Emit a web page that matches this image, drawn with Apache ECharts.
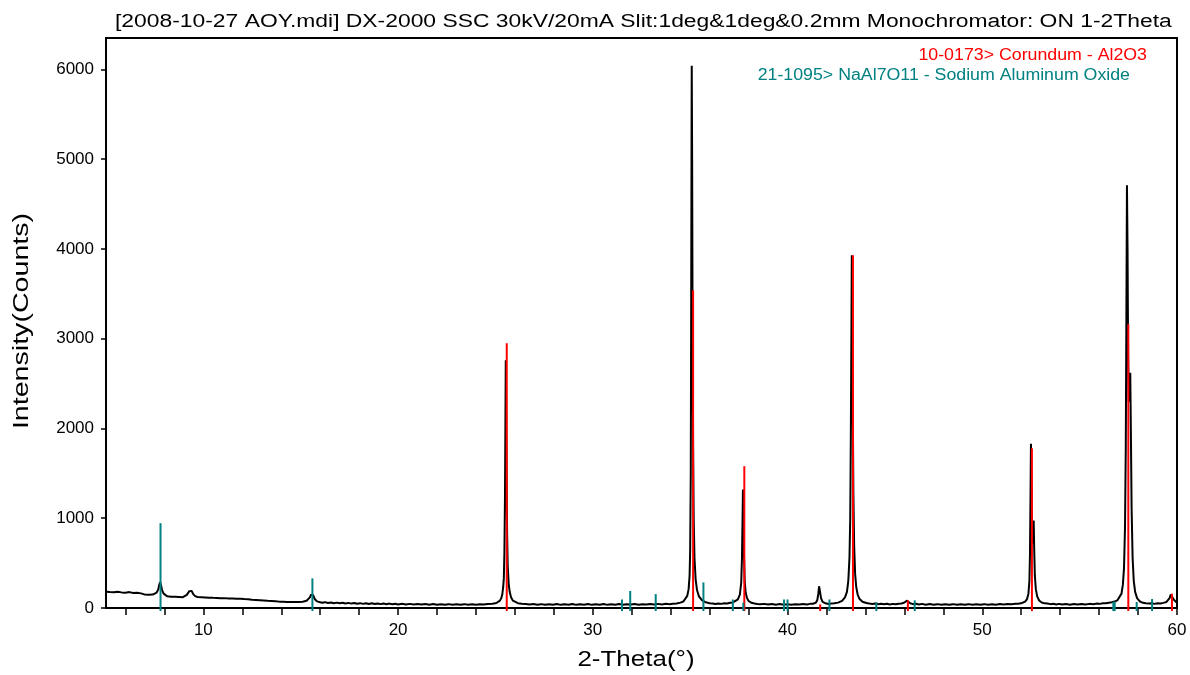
<!DOCTYPE html>
<html>
<head>
<meta charset="utf-8">
<title>XRD pattern</title>
<script src="https://cdn.jsdelivr.net/npm/echarts@6/dist/echarts.min.js"></script>
<style>
  html, body { margin: 0; padding: 0; background: #fff; }
  #chart { width: 1190px; height: 675px; }
</style>
</head>
<body>
<div id="chart"></div>
<script>
const patternLow = [
  [5.0, 182], [5.1, 168], [5.2, 178], [5.3, 160], [5.4, 176], [5.5, 170], [5.6, 181], [5.7, 162],
  [5.8, 174], [5.9, 158], [6.0, 171], [6.1, 165], [6.2, 177], [6.3, 155], [6.4, 168], [6.5, 160],
  [6.6, 170], [6.7, 150], [6.8, 163], [6.9, 156], [7.0, 149], [7.1, 160], [7.2, 147], [7.3, 156],
  [7.4, 150], [7.5, 158], [7.6, 172], [7.68, 205], [7.74, 262], [7.78, 290], [7.82, 258], [7.88, 200],
  [7.96, 160], [8.05, 142], [8.15, 130], [8.25, 141], [8.35, 126], [8.45, 138], [8.55, 124], [8.65, 136],
  [8.75, 122], [8.85, 133], [8.95, 120], [9.05, 134], [9.15, 146], [9.22, 168], [9.28, 188], [9.34, 205],
  [9.4, 190], [9.48, 155], [9.58, 132], [9.7, 122], [9.8, 110], [9.9, 121], [10.0, 106], [10.1, 118],
  [10.2, 104], [10.3, 115], [10.4, 100], [10.5, 113], [10.6, 102], [10.7, 112], [10.8, 96], [10.9, 108],
  [11.0, 99], [11.1, 110], [11.2, 94], [11.3, 106], [11.4, 97], [11.5, 107], [11.6, 91], [11.7, 103],
  [11.8, 94], [11.9, 104], [12.0, 88], [12.1, 99], [12.2, 86], [12.3, 97], [12.4, 84], [12.5, 93],
  [12.6, 80], [12.7, 90], [12.8, 78], [12.9, 87], [13.0, 74], [13.1, 84], [13.2, 72], [13.3, 80],
  [13.4, 69], [13.5, 77], [13.6, 66], [13.7, 74], [13.8, 64], [13.9, 71], [14.0, 62], [14.1, 70],
  [14.2, 60], [14.3, 68], [14.4, 59], [14.5, 66], [14.6, 58], [14.7, 66], [14.8, 60], [14.9, 67],
  [15.0, 62], [15.1, 70], [15.2, 72], [15.3, 80], [15.4, 94], [15.47, 118], [15.53, 148], [15.58, 160],
  [15.64, 142], [15.72, 100], [15.82, 76], [15.95, 66], [16.1, 58], [16.25, 65], [16.4, 55], [16.55, 62],
  [16.7, 53], [16.85, 60], [17.0, 52], [17.15, 59], [17.3, 50], [17.45, 57], [17.6, 49], [17.75, 56],
  [17.9, 47], [18.05, 54], [18.2, 46], [18.35, 53], [18.5, 45], [18.65, 52], [18.8, 44], [18.95, 51],
  [19.1, 43], [19.25, 50], [19.4, 42], [19.55, 49], [19.7, 41], [19.85, 48], [20.0, 40], [20.2, 47],
  [20.4, 39], [20.6, 46], [20.8, 38], [21.0, 45], [21.2, 38], [21.4, 44], [21.6, 37], [21.8, 44],
  [22.0, 36], [22.2, 43], [22.4, 36], [22.6, 43], [22.8, 35], [23.0, 42], [23.2, 36], [23.4, 43],
  [23.6, 35], [23.8, 42], [24.0, 36], [24.2, 43], [24.4, 39], [24.6, 45], [24.85, 48], [25.05, 56],
  [25.15, 66], [25.23, 82], [25.3, 110], [25.35, 150], [25.4, 240], [25.43, 330], [25.46, 620],
  [25.49, 1250], [25.51, 2000], [25.53, 2760], [25.55, 2300], [25.57, 1500], [25.6, 820], [25.63, 470],
  [25.68, 270], [25.73, 180], [25.8, 120], [25.9, 82], [26.0, 64], [26.15, 54], [26.35, 48], [26.55, 44],
  [26.75, 38], [26.95, 45], [27.15, 36], [27.35, 43], [27.55, 35], [27.75, 42], [27.95, 37], [28.15, 44],
  [28.35, 35], [28.55, 42], [28.75, 36], [28.95, 44], [29.15, 35], [29.35, 42], [29.55, 37], [29.75, 44],
  [29.95, 35], [30.15, 42], [30.35, 36], [30.55, 44], [30.75, 35], [30.95, 42], [31.15, 37], [31.35, 44],
  [31.55, 36], [31.75, 43], [31.95, 38], [32.15, 45], [32.35, 36], [32.55, 43], [32.75, 38], [32.95, 45],
  [33.15, 39], [33.35, 46], [33.55, 40], [33.75, 47], [33.95, 43], [34.1, 48], [34.3, 50], [34.5, 60],
  [34.65, 72], [34.75, 90], [34.85, 135], [34.92, 210], [34.97, 360], [35.0, 640], [35.03, 1500],
  [35.05, 3200], [35.07, 5200], [35.08, 6040], [35.1, 5000], [35.12, 3400], [35.15, 1800], [35.18, 1000],
  [35.22, 560], [35.28, 320], [35.35, 200], [35.45, 130], [35.6, 88], [35.8, 64], [36.0, 54], [36.15, 50],
  [36.3, 45], [36.45, 51], [36.6, 46], [36.75, 53], [36.9, 50], [37.05, 58], [37.2, 62], [37.3, 70],
  [37.45, 95], [37.55, 150], [37.62, 280], [37.66, 560], [37.69, 1000], [37.71, 1320], [37.73, 1100],
  [37.76, 620], [37.8, 300], [37.85, 170], [37.92, 110], [38.0, 78], [38.15, 58], [38.3, 50], [38.45, 45],
  [38.6, 41], [38.8, 46], [39.0, 38], [39.2, 45], [39.4, 37], [39.6, 44], [39.8, 36], [40.0, 43],
  [40.2, 36], [40.4, 43], [40.6, 38]
];
const patternHigh = [
  [40.8, 44], [41.0, 40], [41.15, 46], [41.3, 48], [41.45, 58], [41.53, 90], [41.58, 160], [41.62, 242],
  [41.66, 190], [41.72, 110], [41.8, 68], [41.95, 52], [42.1, 45], [42.25, 51], [42.4, 52], [42.6, 60],
  [42.8, 80], [42.95, 118], [43.05, 180], [43.12, 300], [43.18, 560], [43.22, 1000], [43.25, 1900],
  [43.28, 3100], [43.3, 3930], [43.32, 3600], [43.35, 2300], [43.38, 1300], [43.42, 700], [43.47, 380],
  [43.53, 230], [43.6, 150], [43.7, 100], [43.85, 70], [44.05, 55], [44.2, 49], [44.35, 45], [44.5, 51],
  [44.65, 43], [44.8, 48], [44.95, 41], [45.1, 47], [45.25, 40], [45.4, 46], [45.55, 42], [45.7, 48],
  [45.85, 50], [45.98, 58], [46.08, 72], [46.14, 82], [46.2, 70], [46.3, 52], [46.45, 43], [46.6, 48],
  [46.75, 40], [46.9, 46], [47.1, 37], [47.3, 44], [47.5, 36], [47.7, 43], [47.9, 35], [48.1, 42],
  [48.3, 36], [48.5, 43], [48.7, 35], [48.9, 42], [49.1, 36], [49.3, 43], [49.5, 35], [49.7, 42],
  [49.9, 36], [50.1, 43], [50.3, 35], [50.5, 42], [50.7, 37], [50.9, 44], [51.1, 38], [51.3, 45],
  [51.5, 41], [51.7, 47], [51.85, 48], [52.05, 56], [52.2, 72], [52.3, 100], [52.37, 160], [52.42, 300],
  [52.45, 600], [52.48, 1300], [52.5, 1830], [52.52, 1500], [52.55, 900], [52.58, 720], [52.61, 850],
  [52.64, 975], [52.67, 620], [52.7, 360], [52.75, 210], [52.82, 130], [52.92, 84], [53.05, 62],
  [53.2, 52], [53.35, 49], [53.5, 43], [53.65, 48], [53.8, 40], [53.95, 46], [54.1, 38], [54.3, 45],
  [54.5, 37], [54.7, 44], [54.9, 38], [55.1, 45], [55.3, 39], [55.5, 46], [55.7, 43], [55.9, 49],
  [56.05, 46], [56.2, 53], [56.35, 52], [56.5, 58], [56.65, 64], [56.8, 72], [56.95, 88], [57.05, 110],
  [57.15, 160], [57.22, 260], [57.28, 450], [57.33, 900], [57.37, 1800], [57.4, 3200], [57.43, 4710],
  [57.46, 4000], [57.49, 2800], [57.52, 2300], [57.56, 2400], [57.6, 2620], [57.63, 2000], [57.67, 1100],
  [57.72, 560], [57.78, 300], [57.85, 180], [57.95, 110], [58.1, 72], [58.25, 58], [58.4, 53], [58.55, 49],
  [58.7, 53], [58.85, 46], [59.0, 52], [59.15, 50], [59.3, 57], [59.45, 66], [59.55, 82], [59.62, 110],
  [59.68, 150], [59.72, 162], [59.78, 130], [59.85, 90], [59.92, 68], [60.0, 58]
];

// reference cards (stick patterns)
const corundumTheta = [25.58, 35.15, 37.78, 41.68, 43.36, 46.18, 52.55, 57.50, 59.74];
const corundumCounts = [2950, 3540, 1580, 40, 3930, 85, 1780, 3160, 160];
const naAlTheta = [7.8, 15.6, 31.5, 31.92, 33.23, 35.68, 37.19, 37.73, 39.82, 40.0, 42.15, 44.56, 46.53, 56.73, 56.8, 57.93, 58.72];
const naAlCounts = [945, 330, 95, 190, 155, 285, 95, 60, 95, 95, 95, 65, 85, 70, 70, 67, 100];

// axis ticks
const xTickValues = [6, 8, 10, 12, 14, 16, 18, 20, 22, 24, 26, 28, 30, 32, 34, 36, 38, 40, 42, 44, 46, 48, 50, 52, 54, 56, 58, 60];
const xLabelValues = [10, 20, 30, 40, 50, 60];

const STICK_FLOOR = -34;
const FONT = '"Liberation Sans", Arial, sans-serif';

function renderStick (params, api) {
  let top = api.coord([api.value(0), api.value(1)]);
  let bottom = api.coord([api.value(0), STICK_FLOOR]);
  return {
    type: 'line',
    shape: { x1: top[0], y1: top[1], x2: bottom[0], y2: bottom[1] },
    style: { stroke: api.visual('color'), lineWidth: 2 }
  };
}

// the plot software draws its texts wide, so stretch them a little
function wideText (text, x, y, size, scaleX, align, color, rotation) {
  return {
    type: 'text',
    x: x,
    y: y,
    rotation: rotation || 0,
    scaleX: scaleX,
    style: {
      text: text,
      fill: color,
      font: size + 'px ' + FONT,
      align: align,
      verticalAlign: 'middle'
    }
  };
}

let myChart = echarts.init(document.getElementById('chart'));
let option = {
  animation: false,
  backgroundColor: '#fff',
  graphic: [
    wideText('[2008-10-27 AOY.mdi] DX-2000 SSC 30kV/20mA Slit:1deg&1deg&0.2mm Monochromator: ON 1-2Theta',
      115, 22, 18, 1.27, 'left', '#000'),
    wideText('10-0173> Corundum - Al2O3', 1147, 56, 16, 1.11, 'right', '#ff0000'),
    wideText('21-1095> NaAl7O11 - Sodium Aluminum Oxide', 1130, 76, 16, 1.11, 'right', '#008080'),
    wideText('Intensity(Counts)', 22, 321, 22, 1.3, 'center', '#000', Math.PI / 2),
    wideText('2-Theta(°)', 636, 660, 22, 1.18, 'center', '#000')
  ],
  grid: {
    left: 106,
    right: 13,
    top: 38,
    bottom: 67,
    show: true,
    borderColor: '#000',
    borderWidth: 2
  },
  xAxis: {
    type: 'value',
    min: 5,
    max: 60,
    axisLine: { lineStyle: { color: '#000', width: 2 } },
    axisTick: { show: true, length: 7, customValues: xTickValues, lineStyle: { color: '#000', width: 1.5 } },
    axisLabel: { customValues: xLabelValues, margin: 14, color: '#000', fontSize: 17, fontFamily: FONT },
    splitLine: { show: false }
  },
  yAxis: {
    type: 'value',
    min: 0,
    max: 6350,
    interval: 1000,
    axisLine: { show: true, lineStyle: { color: '#000', width: 2 } },
    axisTick: { show: true, length: 5, lineStyle: { color: '#000', width: 1.5 } },
    axisLabel: {
      margin: 12,
      color: '#000',
      fontSize: 17,
      fontFamily: FONT,
      showMaxLabel: false,
      formatter: function (v) { return String(v) }
    },
    splitLine: { show: false }
  },
  series: [
    {
      name: 'pattern',
      type: 'line',
      data: patternLow.concat(patternHigh),
      symbol: 'none',
      smooth: false,
      lineStyle: { color: '#000', width: 2 },
      z: 2
    },
    {
      name: 'Corundum',
      type: 'custom',
      renderItem: renderStick,
      itemStyle: { color: '#ff0000' },
      data: corundumTheta.map((t, i) => [t, corundumCounts[i]]),
      clip: false,
      z: 3
    },
    {
      name: 'NaAl7O11',
      type: 'custom',
      renderItem: renderStick,
      itemStyle: { color: '#008080' },
      data: naAlTheta.map((t, i) => [t, naAlCounts[i]]),
      clip: false,
      z: 3
    }
  ]
};
myChart.setOption(option);
</script>
</body>
</html>
